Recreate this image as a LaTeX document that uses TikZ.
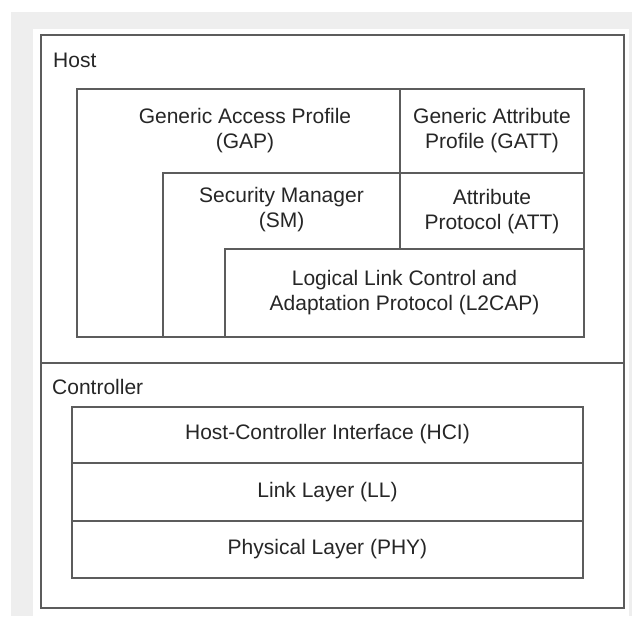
\documentclass[tikz,border=0pt]{standalone}
\usepackage{fontspec}
\setmainfont{Liberation Sans}
\begin{document}
\begin{tikzpicture}[x=1pt,y=-1pt,
  frame/.style={draw=linegray,line width=1.3pt},
  lbl/.style={text=textgray,font=\fontsize{21}{25}\selectfont,align=center,inner sep=0pt},
  side/.style={text=textgray,font=\fontsize{21}{25}\selectfont,anchor=west,inner sep=0pt}]
\definecolor{linegray}{HTML}{5C5C5C}
\definecolor{textgray}{HTML}{262626}
\definecolor{bggray}{HTML}{EEEEEE}
\useasboundingbox (0,0) rectangle (632,616);
\fill[white] (0,0) rectangle (632,616);
\fill[bggray] (11,12) rectangle (632,616);
\fill[white] (33,29) rectangle (629,616);
% outer frame
\draw[frame] (41,35) rectangle (624,608);
\draw[frame] (41,363) -- (624,363);
% host stack
\draw[frame] (77,89) rectangle (584,337);
\draw[frame] (163,337) -- (163,173) -- (584,173);
\draw[frame] (400,89) -- (400,249);
\draw[frame] (225,337) rectangle (584,249);
% controller stack
\draw[frame] (72,407) rectangle (583,578);
\draw[frame] (72,463) -- (583,463);
\draw[frame] (72,521) -- (583,521);
% labels
\node[side] (host) at (53,60) {Host};
\node[side] (ctrl) at (52,387) {Controller};
\node[lbl] (gap) at (245,130.5) {Generic Access Profile\\(GAP)};
\node[lbl] (gatt) at (492,130.5) {Generic Attribute\\Profile (GATT)};
\node[lbl] (sm) at (281.5,209.5) {Security Manager\\(SM)};
\node[lbl] (att) at (492,211.5) {Attribute\\Protocol (ATT)};
\node[lbl] (l2cap) at (404.5,292.5) {Logical Link Control and\\Adaptation Protocol (L2CAP)};
\node[lbl] (hci) at (327.5,434.5) {Host-Controller Interface (HCI)};
\node[lbl] (ll) at (327.5,492.5) {Link Layer (LL)};
\node[lbl] (phy) at (327.5,549.5) {Physical Layer (PHY)};
\end{tikzpicture}
\end{document}
